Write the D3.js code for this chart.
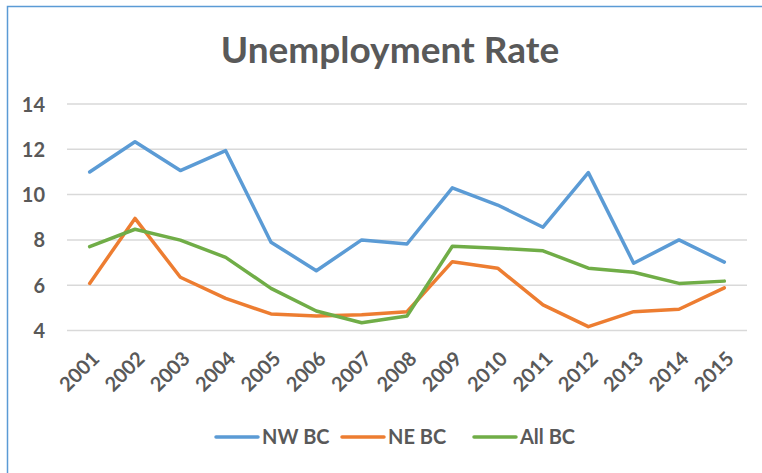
<!DOCTYPE html>
<html>
<head>
<meta charset="UTF-8">
<title>Unemployment Rate</title>
<script src="https://cdn.jsdelivr.net/npm/d3@7"></script>
<style>
    body { margin: 0; background: #fff; }
    .titulo { font-family: Lato, sans-serif; font-weight: 700; font-size: 37px; fill: #595959; }
    .ejes text { font-family: Lato, sans-serif; font-weight: 700; font-size: 20px; fill: #595959; }
    .leyenda { font-family: Lato, sans-serif; font-weight: 700; font-size: 20px; fill: #595959; }
</style>
</head>
<body>
<div id="grafico"></div>
<script>
var years = ["2001","2002","2003","2004","2005","2006","2007","2008","2009","2010","2011","2012","2013","2014","2015"];
var nwBC  = [11.0, 12.33, 11.06, 11.94, 7.9, 6.64, 8.0, 7.82, 10.3, 9.54, 8.56, 10.97, 6.97, 8.0, 7.02];
var neBC  = [6.08, 8.95, 6.35, 5.42, 4.73, 4.64, 4.7, 4.83, 7.04, 6.75, 5.13, 4.17, 4.83, 4.94, 5.88];
var allBC = [7.7, 8.47, 7.99, 7.23, 5.86, 4.86, 4.34, 4.64, 7.72, 7.63, 7.52, 6.75, 6.57, 6.08, 6.18];
var yTicks = [4, 6, 8, 10, 12, 14];
var seriesNames = ["NW BC", "NE BC", "All BC"];
var colores = ["#5B9BD5", "#ED7D31", "#70AD47"];

var w = 762, h = 473;
var svg = d3.select("#grafico").append("svg").attr("width", w).attr("height", h);

// marco del grafico
svg.append("rect")
    .attr("x", 7.5).attr("y", 6.5)
    .attr("width", w + 10).attr("height", h + 10)
    .attr("fill", "none")
    .attr("stroke", "#5B9BD5")
    .attr("stroke-width", 1.5);

svg.append("text")
    .classed("titulo", true)
    .attr("x", 390).attr("y", 63)
    .attr("text-anchor", "middle")
    .text("Unemployment Rate");

var x = d3.scaleBand().domain(years).range([67, 747]);
var y = d3.scaleLinear().domain([4, 14]).range([330.5, 104]);

// lineas de la cuadricula
svg.append("g")
    .selectAll("line")
    .data(yTicks)
    .enter()
    .append("line")
    .attr("x1", 67).attr("x2", 747)
    .attr("y1", function(d){ return y(d); })
    .attr("y2", function(d){ return y(d); })
    .attr("stroke", "#d9d9d9")
    .attr("stroke-width", 1.5);

var ejeY = svg.append("g")
    .classed("ejes", true)
    .attr("transform", "translate(50,0)")
    .call(d3.axisLeft(y).tickValues(yTicks).tickSize(0).tickPadding(0));
ejeY.select(".domain").remove();
ejeY.selectAll("text").attr("dy", "0.35em").attr("x", -5);

var ejeX = svg.append("g")
    .classed("ejes", true)
    .attr("transform", "translate(0,355)")
    .call(d3.axisBottom(x).tickSize(0).tickPadding(0));
ejeX.select(".domain").remove();
ejeX.selectAll("text")
    .attr("text-anchor", "end")
    .attr("y", 0).attr("dy", "0.35em")
    .attr("transform", "translate(6,0) rotate(-45)");

var series = [nwBC, neBC, allBC];
var linea = d3.line()
    .x(function(d, i){ return x(years[i]) + x.bandwidth() / 2; })
    .y(function(d){ return y(d); });

svg.append("g")
    .selectAll("path")
    .data(series)
    .enter()
    .append("path")
    .attr("d", linea)
    .attr("fill", "none")
    .attr("stroke", function(d, i){ return colores[i]; })
    .attr("stroke-width", 3.5)
    .attr("stroke-linejoin", "round")
    .attr("stroke-linecap", "round");

// leyenda
var legX = [216, 342, 474];
var leyenda = svg.append("g")
    .selectAll("g")
    .data(seriesNames)
    .enter()
    .append("g")
    .attr("transform", function(d, i){ return "translate(" + legX[i] + ",437)"; });
leyenda.append("line")
    .attr("x1", 0).attr("x2", 42)
    .attr("stroke", function(d, i){ return colores[i]; })
    .attr("stroke-width", 3.5)
    .attr("stroke-linecap", "round");
leyenda.append("text")
    .classed("leyenda", true)
    .attr("x", 46).attr("dy", "0.35em")
    .text(function(d){ return d; });
</script>
</body>
</html>
